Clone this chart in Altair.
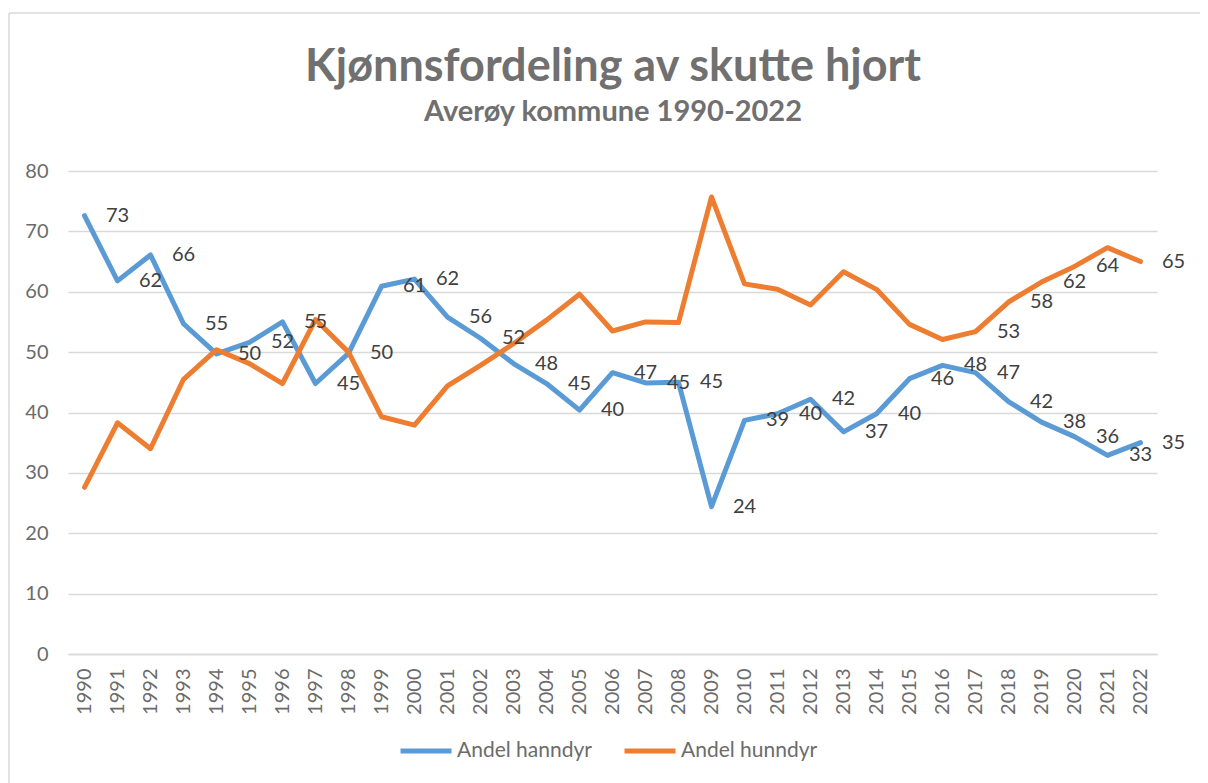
import altair as alt
import pandas as pd

years = list(range(1990, 2023))
hanndyr = [72.6, 61.8, 66.1, 54.7, 49.7, 51.6, 55.0, 44.8, 49.8, 60.9,
           62.1, 55.8, 52.3, 48.1, 44.8, 40.4, 46.6, 44.9, 45.0, 24.4,
           38.7, 39.8, 42.2, 36.8, 39.8, 45.6, 47.8, 46.6, 41.8, 38.4,
           36.0, 32.9, 35.0]
hunndyr = [27.6, 38.3, 34.0, 45.5, 50.4, 48.1, 44.8, 55.4, 50.0, 39.3,
           37.9, 44.4, 47.8, 51.4, 55.3, 59.6, 53.5, 55.0, 54.9, 75.7,
           61.3, 60.4, 57.8, 63.3, 60.4, 54.6, 52.1, 53.4, 58.3, 61.6,
           64.2, 67.3, 65.0]
series_names = ["Andel hanndyr", "Andel hunndyr"]
series_colors = ["#5B9BD5", "#ED7D31"]
# years whose value carries a data label (Excel places it one category to the right)
hunndyr_label_years = [2017, 2018, 2019, 2020, 2022]
title_text = "Kjønnsfordeling av skutte hjort"
subtitle_text = "Averøy kommune 1990-2022"

rows = []
for y, a, b in zip(years, hanndyr, hunndyr):
    rows.append({"year": y, "value": a, "serie": series_names[0]})
    rows.append({"year": y, "value": b, "serie": series_names[1]})
df = pd.DataFrame(rows)

lab = []
for y, a in zip(years, hanndyr):
    lab.append({"year": y, "value": a, "serie": series_names[0]})
for y, b in zip(years, hunndyr):
    if y in hunndyr_label_years:
        lab.append({"year": y, "value": b, "serie": series_names[1]})
labdf = pd.DataFrame(lab)
labdf["pos"] = labdf["year"] + 1
labdf["txt"] = labdf["value"].round(0).astype(int).astype(str)

FONT = "Lato"
AXIS_GREY = "#6b6b6b"
TITLE_GREY = "#707070"

xscale = alt.Scale(domain=[1989.5, 2022.5], nice=False, zero=False)
yscale = alt.Scale(domain=[0, 80], nice=False)
xaxis = alt.Axis(values=years, format="d", title=None, labelAngle=-90,
                 labelAlign="right", labelBaseline="middle", labelFontSize=20,
                 labelColor=AXIS_GREY, labelFont=FONT, labelPadding=14,
                 ticks=False, grid=False, domain=True, domainColor="#d9d9d9",
                 domainWidth=1.5, labelOverlap=False, labelFlush=False,
                 labelBound=False)
yaxis = alt.Axis(values=list(range(0, 81, 10)), title=None, labelFontSize=20,
                 labelColor=AXIS_GREY, labelFont=FONT, labelPadding=20,
                 ticks=False, domain=False, gridColor="#d9d9d9", gridWidth=1.5)

lines = alt.Chart(df).mark_line(strokeWidth=5, strokeCap="round", strokeJoin="round").encode(
    x=alt.X("year:Q", scale=xscale, axis=xaxis),
    y=alt.Y("value:Q", scale=yscale, axis=yaxis),
    color=alt.Color("serie:N", scale=alt.Scale(domain=series_names, range=series_colors),
                    legend=alt.Legend(title=None, orient="none", legendX=330, legendY=552,
                                      direction="horizontal", symbolType="stroke",
                                      symbolSize=2600, symbolStrokeWidth=5,
                                      labelFontSize=21, labelColor=AXIS_GREY, labelFont=FONT,
                                      labelOffset=3, columnPadding=22)),
    order="year:Q",
)

texts = alt.Chart(labdf).mark_text(fontSize=20, font=FONT, color="#404040",
                                   align="center", baseline="middle").encode(
    x=alt.X("pos:Q", scale=xscale, axis=xaxis),
    y=alt.Y("value:Q", scale=yscale, axis=yaxis),
    text="txt:N",
)

one = pd.DataFrame({"k": [0]})
border_top = alt.Chart(one).mark_rule(color="#d9d9d9", strokeWidth=1.5).encode(
    x=alt.value(-59), x2=alt.value(1140), y=alt.value(-158))
border_left = alt.Chart(one).mark_rule(color="#d9d9d9", strokeWidth=1.5).encode(
    x=alt.value(-59), y=alt.value(-158), y2=alt.value(620))

title_mark = alt.Chart(one).mark_text(text=title_text, font=FONT, fontSize=45, fontWeight="bold",
                                      color=TITLE_GREY, align="center", baseline="alphabetic").encode(
    x=alt.value(545), y=alt.value(-90))
subtitle_mark = alt.Chart(one).mark_text(text=subtitle_text, font=FONT, fontSize=29, fontWeight="bold",
                                         color=TITLE_GREY, align="center", baseline="alphabetic").encode(
    x=alt.value(545), y=alt.value(-50))

chart = alt.layer(border_top, border_left, title_mark, subtitle_mark, lines, texts).properties(
    width=1089, height=483,
    background="white",
    autosize=alt.AutoSizeParams(type="none"),
    padding={"left": 60, "top": 163, "right": 43, "bottom": 129},
).configure_view(stroke=None)

chart.save("out.html", embed_options={"renderer": "svg", "actions": False})
